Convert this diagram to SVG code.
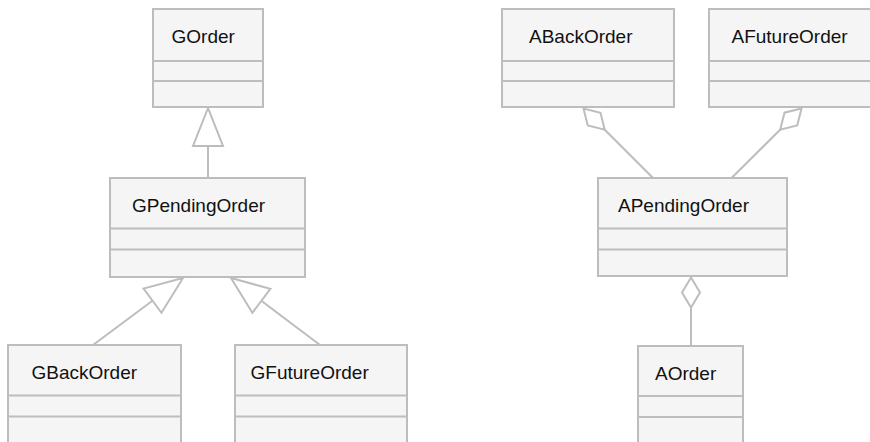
<svg xmlns="http://www.w3.org/2000/svg" width="870" height="442" viewBox="0 0 870 442">
<style>
.box rect{fill:#f5f5f5;stroke:#bdbdbd;stroke-width:2}
.box line{stroke:#bdbdbd;stroke-width:2}
.box text{font-family:"Liberation Sans",Arial,Helvetica,sans-serif;font-size:19px;fill:#111}
.conn line{stroke:#bdbdbd;stroke-width:2;fill:none}
.mk{fill:#fff;stroke:#bdbdbd;stroke-width:2}
</style>
<defs>
<marker id="tri" markerUnits="userSpaceOnUse" viewBox="-40 -17 42 34" markerWidth="42" markerHeight="34" refX="0" refY="0" orient="auto" overflow="visible">
<path class="mk" d="M0,0 L-38,-15 L-38,15 Z"/>
</marker>
<marker id="dia" markerUnits="userSpaceOnUse" viewBox="-32 -11 34 22" markerWidth="34" markerHeight="22" refX="0" refY="0" orient="auto" overflow="visible">
<path class="mk" d="M0,0 L-15,-9 L-30,0 L-15,9 Z"/>
</marker>
</defs>
<rect x="0" y="0" width="870" height="442" fill="#fff"/>
<g id="connectors" class="conn">
<line x1="208" y1="178" x2="208" y2="108" marker-end="url(#tri)"/>
<line x1="93" y1="345" x2="183" y2="278" marker-end="url(#tri)"/>
<line x1="320" y1="345" x2="231" y2="278" marker-end="url(#tri)"/>
<line x1="653" y1="178" x2="583.5" y2="108.5" marker-end="url(#dia)"/>
<line x1="731.5" y1="178" x2="801.5" y2="108.5" marker-end="url(#dia)"/>
<line x1="691" y1="346" x2="691" y2="277.5" marker-end="url(#dia)"/>
</g>
<g id="GOrder" class="box">
<rect x="153" y="9" width="110" height="98"/>
<line x1="153" y1="61" x2="263" y2="61"/>
<line x1="153" y1="81" x2="263" y2="81"/>
<text x="171.5" y="43">GOrder</text>
</g>
<g id="GPendingOrder" class="box">
<rect x="110" y="178" width="195" height="99"/>
<line x1="110" y1="228.5" x2="305" y2="228.5"/>
<line x1="110" y1="249.5" x2="305" y2="249.5"/>
<text x="132" y="212">GPendingOrder</text>
</g>
<g id="GBackOrder" class="box">
<rect x="8" y="345" width="173" height="100"/>
<line x1="8" y1="395.5" x2="181" y2="395.5"/>
<line x1="8" y1="416.5" x2="181" y2="416.5"/>
<text x="31.5" y="379">GBackOrder</text>
</g>
<g id="GFutureOrder" class="box">
<rect x="235" y="345" width="172" height="100"/>
<line x1="235" y1="395.5" x2="407" y2="395.5"/>
<line x1="235" y1="416.5" x2="407" y2="416.5"/>
<text x="250.5" y="379">GFutureOrder</text>
</g>
<g id="ABackOrder" class="box">
<rect x="502" y="9" width="172" height="98"/>
<line x1="502" y1="61" x2="674" y2="61"/>
<line x1="502" y1="81" x2="674" y2="81"/>
<text x="529" y="43">ABackOrder</text>
</g>
<g id="AFutureOrder" class="box">
<rect x="709" y="9" width="172" height="98"/>
<line x1="709" y1="61" x2="881" y2="61"/>
<line x1="709" y1="81" x2="881" y2="81"/>
<text x="731.5" y="43">AFutureOrder</text>
</g>
<g id="APendingOrder" class="box">
<rect x="598" y="178" width="189" height="98"/>
<line x1="598" y1="228.5" x2="787" y2="228.5"/>
<line x1="598" y1="249.5" x2="787" y2="249.5"/>
<text x="618" y="212">APendingOrder</text>
</g>
<g id="AOrder" class="box">
<rect x="638" y="346" width="105" height="100"/>
<line x1="638" y1="396" x2="743" y2="396"/>
<line x1="638" y1="417" x2="743" y2="417"/>
<text x="655" y="380">AOrder</text>
</g>
</svg>
